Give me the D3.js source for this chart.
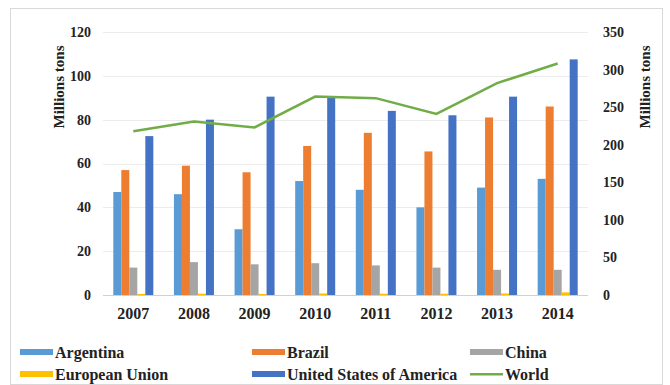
<!DOCTYPE html>
<meta charset="utf-8">
<script src="https://d3js.org/d3.v7.min.js"></script>
<style>
body { margin: 0; background: #fff; }
text { font-family: "Liberation Serif", "Times New Roman", serif; font-weight: bold; fill: #222; }
</style>
<body>
<script>

var years = ["2007", "2008", "2009", "2010", "2011", "2012", "2013", "2014"];
var series = ["Argentina", "Brazil", "China", "European Union", "United States of America"];
var colors = ["#5b9bd5", "#ed7d31", "#a5a5a5", "#ffc000", "#4472c4"];

var argentina = [47, 46, 30, 52, 48, 40, 49, 53];
var brazil    = [57, 59, 56, 68, 74, 65.5, 81, 86];
var china     = [12.5, 15, 14, 14.5, 13.5, 12.5, 11.5, 11.5];
var eu        = [0.5, 0.6, 0.5, 0.7, 0.6, 0.6, 0.7, 1.2];
var usa       = [72.5, 80, 90.5, 90, 84, 82, 90.5, 107.5];
var world     = [218, 231, 223, 264, 262, 241, 282, 308];

var leftTicks = [0, 20, 40, 60, 80, 100, 120];
var rightTicks = [0, 50, 100, 150, 200, 250, 300, 350];

var values = [argentina, brazil, china, eu, usa];

var width = 670, height = 385;
var pLeft = 103, pRight = 588, pTop = 32, pBottom = 295;

var svg = d3.select("body").append("svg")
    .attr("width", width)
    .attr("height", height);

// frame
svg.append("rect")
    .attr("x", 10.5).attr("y", 8.5)
    .attr("width", 652).attr("height", 376)
    .attr("fill", "none")
    .attr("stroke", "#d9d9d9");

var x = d3.scaleBand().domain(years).range([pLeft, pRight])
    .paddingInner(0.34).paddingOuter(0.17);
var xs = d3.scaleBand().domain(series).range([0, x.bandwidth()]);
var y = d3.scaleLinear().domain([0, 120]).range([pBottom, pTop]);
var y2 = d3.scaleLinear().domain([0, 350]).range([pBottom, pTop]);

// grid
svg.append("g").selectAll("line")
    .data(leftTicks)
    .enter().append("line")
    .attr("x1", pLeft).attr("x2", pRight)
    .attr("y1", d => Math.round(y(d)) + 0.5)
    .attr("y2", d => Math.round(y(d)) + 0.5)
    .attr("stroke", d => d == 0 ? "#d0d0d0" : "#ececec");

// left axis
var yAxis = svg.append("g")
    .attr("transform", "translate(" + (pLeft - 12) + ",0)")
    .call(d3.axisLeft(y).tickValues(leftTicks).tickSize(0).tickPadding(0));
yAxis.select(".domain").remove();
yAxis.selectAll("text").style("font-size", "14px").attr("font-family", null);

// right axis
var yAxis2 = svg.append("g")
    .attr("transform", "translate(" + (pRight + 15) + ",0)")
    .call(d3.axisRight(y2).tickValues(rightTicks).tickSize(0).tickPadding(0));
yAxis2.select(".domain").remove();
yAxis2.selectAll("text").style("font-size", "14px").attr("font-family", null);

// x axis
var xAxis = svg.append("g")
    .attr("transform", "translate(0," + (pBottom + 12) + ")")
    .call(d3.axisBottom(x).tickSize(0).tickPadding(0));
xAxis.select(".domain").remove();
xAxis.selectAll("text").style("font-size", "16px").attr("dy", "0.75em").attr("font-family", null);

// axis titles
svg.append("text")
    .attr("transform", "translate(64,87) rotate(-90)")
    .attr("text-anchor", "middle")
    .style("font-size", "15px")
    .text("Millions  tons");
svg.append("text")
    .attr("transform", "translate(650,87) rotate(-90)")
    .attr("text-anchor", "middle")
    .style("font-size", "15px")
    .text("Millions  tons");

// bars
var groups = svg.append("g").selectAll("g")
    .data(years)
    .enter().append("g")
    .attr("transform", d => "translate(" + x(d) + ",0)");

groups.selectAll("rect")
    .data((d, i) => series.map((s, j) => ({ s: s, v: values[j][i], c: colors[j] })))
    .enter().append("rect")
    .attr("x", d => xs(d.s))
    .attr("width", xs.bandwidth())
    .attr("y", d => y(d.v))
    .attr("height", d => pBottom - y(d.v))
    .attr("fill", d => d.c);

// world line
var line = d3.line()
    .x((d, i) => x(years[i]) + x.bandwidth() / 2)
    .y(d => y2(d));

svg.append("path")
    .datum(world)
    .attr("d", line)
    .attr("fill", "none")
    .attr("stroke", "#70ad47")
    .attr("stroke-width", 2.5);

// legend
var legendItems = series.map((s, i) => ({ name: s, color: colors[i], type: "bar" }));
legendItems.push({ name: "World", color: "#70ad47", type: "line" });
var legendX = [20, 252, 470];
var legendY = [352, 374];

var leg = svg.append("g").selectAll("g")
    .data(legendItems)
    .enter().append("g")
    .attr("transform", (d, i) => "translate(" + legendX[i % 3] + "," + legendY[Math.floor(i / 3)] + ")");

leg.append("rect")
    .attr("x", 0)
    .attr("y", d => d.type == "bar" ? -3 : -1)
    .attr("width", 33)
    .attr("height", d => d.type == "bar" ? 6 : 2.5)
    .attr("fill", d => d.color);

leg.append("text")
    .attr("x", 35)
    .attr("dy", "0.35em")
    .style("font-size", "16px")
    .text(d => d.name);

</script>
</body>
